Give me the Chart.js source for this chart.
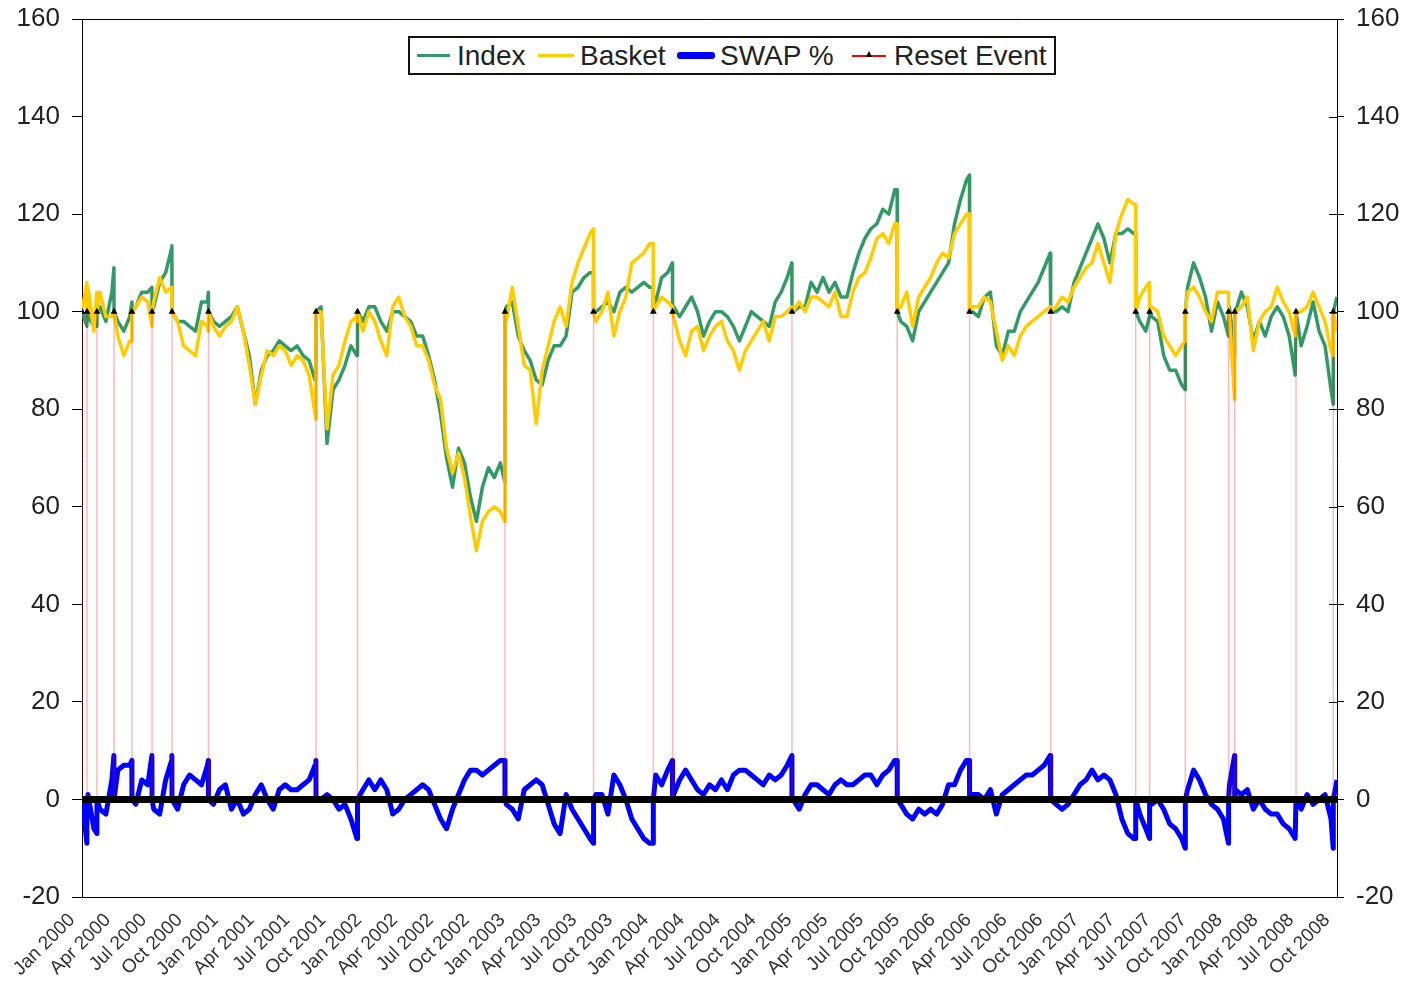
<!DOCTYPE html>
<html>
<head>
<meta charset="utf-8">
<script src="https://cdn.jsdelivr.net/npm/chart.js@4.4.1/dist/chart.umd.min.js"></script>
<style>
  body { margin: 0; background: #fff; }
  #wrap { position: relative; width: 1408px; height: 981px; }
  #legend {
    position: absolute; left: 408px; top: 36px; width: 648px; height: 39px;
    box-sizing: border-box; border: 2px solid #111; background: #fff;
    font-family: "Liberation Sans", Arial, sans-serif; font-size: 28px; color: #222;
  }
  #legend .sym { position: absolute; top: 50%; }
  #legend .txt { position: absolute; top: 0; line-height: 35px; white-space: nowrap; }
  .tri { position: absolute; width: 0; height: 0; border-left: 3px solid transparent;
         border-right: 3px solid transparent; border-bottom: 6px solid #000; }
</style>
</head>
<body>
<div id="wrap">
  <canvas id="chart" width="1408" height="981"></canvas>
  <div id="legend">
    <span class="sym" style="left:7px;width:33px;height:3px;margin-top:-2px;background:#339966"></span>
    <span class="txt" style="left:47px">Index</span>
    <span class="sym" style="left:128px;width:36px;height:3px;margin-top:-2px;background:#ffcc00"></span>
    <span class="txt" style="left:170px">Basket</span>
    <span class="sym" style="left:267px;width:38px;height:7px;margin-top:-4px;border-radius:3px;background:#0000ff"></span>
    <span class="txt" style="left:310px">SWAP %</span>
    <span class="sym" style="left:442px;width:34px;height:2px;margin-top:-1px;background:#ff0000"></span>
    <span class="tri" style="left:456px;top:13px"></span>
    <span class="txt" style="left:484px">Reset Event</span>
  </div>
</div>
<script>
// x values are months since Jan 2000, one reading every half month
const STEP = 0.5;
const X_MIN = 0;
const X_MAX = 105;

const tickLabels = [
  'Jan 2000', 'Apr 2000', 'Jul 2000', 'Oct 2000',
  'Jan 2001', 'Apr 2001', 'Jul 2001', 'Oct 2001',
  'Jan 2002', 'Apr 2002', 'Jul 2002', 'Oct 2002',
  'Jan 2003', 'Apr 2003', 'Jul 2003', 'Oct 2003',
  'Jan 2004', 'Apr 2004', 'Jul 2004', 'Oct 2004',
  'Jan 2005', 'Apr 2005', 'Jul 2005', 'Oct 2005',
  'Jan 2006', 'Apr 2006', 'Jul 2006', 'Oct 2006',
  'Jan 2007', 'Apr 2007', 'Jul 2007', 'Oct 2007',
  'Jan 2008', 'Apr 2008', 'Jul 2008', 'Oct 2008'
];

const indexValues = [
  100, 99, 97, 101, 98, 104, 98, 96, 99, 101, 104, 104, 101, 106, 108, 113, 98, 98, 97, 96, 102, 102, 98, 97,
  98, 99, 101, 96, 91, 81, 88, 91, 92, 94, 93, 92, 93, 91, 90, 86, 101, 73, 84, 86, 89, 93, 91, 98,
  101, 101, 98, 96, 100, 100, 99, 98, 95, 95, 91, 86, 79, 70, 64, 72, 69, 62, 57, 64, 68, 66, 69, 101,
  102, 95, 92, 90, 86, 85, 90, 93, 93, 95, 104, 105, 107, 108, 100, 101, 102, 100, 104, 105, 104, 105, 106, 105,
  102, 107, 108, 101, 99, 101, 103, 100, 95, 98, 100, 100, 99, 97, 94, 97, 100, 99, 98, 97, 102, 104, 107, 100,
  101, 101, 106, 104, 107, 104, 106, 103, 103, 108, 112, 115, 117, 118, 121, 120, 125, 98, 97, 94, 100, 102, 104, 106,
  108, 110, 118, 123, 127, 100, 99, 103, 104, 93, 91, 96, 96, 100, 102, 104, 106, 109, 112, 100, 101, 100, 106, 109,
  112, 115, 118, 115, 110, 116, 116, 117, 116, 98, 96, 99, 98, 91, 88, 88, 85, 105, 110, 107, 103, 96, 102, 99,
  101, 100, 104, 101, 94, 98, 95, 99, 101, 99, 95, 87, 93, 97, 102, 96, 93, 84, 103
];

const basketValues = [
  100, 105, 96, 104, 99, 99, 95, 91, 94, 101, 103, 102, 102, 107, 104, 105, 98, 93, 92, 91, 98, 97, 97, 95,
  97, 98, 101, 96, 89, 81, 87, 92, 91, 93, 92, 89, 91, 90, 87, 79, 100, 76, 87, 89, 94, 98, 99, 96,
  100, 98, 94, 91, 101, 103, 99, 97, 93, 93, 90, 85, 82, 72, 67, 71, 66, 58, 51, 57, 59, 60, 59, 98,
  105, 97, 89, 88, 77, 88, 93, 98, 101, 97, 106, 110, 113, 116, 98, 100, 104, 95, 100, 103, 110, 111, 112, 114,
  101, 103, 102, 99, 94, 91, 96, 97, 92, 95, 97, 98, 94, 92, 88, 92, 94, 96, 98, 94, 99, 99, 100, 100,
  102, 100, 103, 103, 102, 101, 104, 99, 99, 104, 107, 108, 111, 115, 116, 114, 118, 101, 104, 97, 103, 105, 107, 110,
  112, 111, 116, 118, 120, 101, 101, 103, 102, 96, 90, 93, 91, 95, 97, 98, 99, 100, 101, 101, 103, 102, 105, 107,
  109, 110, 114, 110, 106, 116, 120, 123, 122, 103, 105, 101, 100, 95, 93, 91, 93, 104, 105, 103, 100, 98, 104, 104,
  99, 100, 101, 103, 92, 98, 100, 101, 105, 102, 100, 95, 100, 101, 104, 101, 98, 92, 96
];

const swapValues = [
  0, 1, -6, -2, -3, 4, 6, 7, 7, -1, 4, 3, -2, -3, 4, 8, -2, 3, 5, 4, 3, 7, -1, 2,
  3, -2, 0, -3, -2, 1, 3, 0, -2, 2, 3, 2, 2, 3, 4, 7, 0, 1, 0, -2, -1, -4, -8, 2,
  4, 2, 4, 2, -3, -2, 0, 1, 2, 3, 2, -1, -4, -6, -2, 1, 4, 6, 6, 5, 6, 7, 8, -1,
  -2, -4, 2, 3, 4, 3, -1, -5, -7, 1, -2, -4, -6, -8, 1, 1, -3, 5, 3, 0, -4, -6, -8, -9,
  5, 3, 6, 1, 4, 6, 4, 2, 1, 3, 2, 4, 2, 5, 6, 6, 5, 4, 3, 5, 4, 5, 7, 0,
  -2, 1, 3, 3, 2, 1, 3, 4, 3, 3, 4, 5, 5, 3, 5, 6, 8, -1, -3, -4, -2, -3, -2, -3,
  -1, 3, 3, 6, 8, 1, 1, 0, 2, -3, 1, 2, 3, 4, 5, 5, 6, 7, 9, -1, -2, -1, 1, 3,
  4, 6, 4, 5, 4, 1, -4, -7, -8, -3, -6, -1, 0, -2, -5, -6, -8, 2, 6, 4, 1, -1, -2, -4,
  3, 2, 1, 2, -2, 0, -2, -3, -3, -5, -6, -8, -2, 1, -1, 0, 1, -4, 4
];

// reset dates (months since Jan 2000) and the readings just before each reset
const resetMonths = [0, 0.42, 1.25, 2.68, 4.18, 5.86, 7.53, 10.58, 19.58, 23.05, 35.39, 42.8, 47.8,
  49.41, 59.4, 68.21, 74.26, 81.05, 88.16, 89.32, 92.31, 95.93, 96.44, 101.57, 104.69];
const indexBeforeReset = [100, 97, 97, 109, 102, 105, 113.5, 104, 87, 91, 65, 108, 105,
  110, 110, 125, 128, 112, 116, 99, 84, 95, 91, 87, 81];
const basketBeforeReset = [100, 106, 104, 100, 94, 97, 105, 96, 78, 98, 57, 117, 114,
  101, 101, 118, 120, 101, 122, 106, 94, 104, 82, 95, 91];
const swapBeforeReset = [0, -9, -7, 9, 8, 9, 9, 8, 8, -8, 8, -9, -9,
  8, 9, 8, 8, 9, -8, -8, -10, -9, 9, -8, -10];
const RESET_LEVEL = 100;

function buildSeries(values, before, after) {
  const pts = values.map((v, i) => ({ x: i * STEP, y: v }));
  resetMonths.forEach((r, j) => {
    if (r > X_MIN) pts.push({ x: r - 0.01, y: before[j] });
    pts.push({ x: r, y: after });
  });
  pts.sort((a, b) => a.x - b.x);
  return pts;
}

const resetPoints = [];
resetMonths.forEach(r => {
  resetPoints.push({ x: r, y: 0 }, { x: r, y: RESET_LEVEL }, { x: r, y: 0 });
});

const FONT = '"Liberation Sans", Arial, sans-serif';

// top border of the plot and the inner half of the right-hand ticks
const frame = {
  id: 'frame',
  afterDraw(chart) {
    const { ctx, chartArea } = chart;
    const y2 = chart.scales.y2;
    ctx.save();
    ctx.strokeStyle = '#000';
    ctx.lineWidth = 1;
    ctx.beginPath();
    ctx.moveTo(chartArea.left, chartArea.top + 0.5);
    ctx.lineTo(chartArea.right, chartArea.top + 0.5);
    y2.ticks.forEach(t => {
      const py = Math.round(y2.getPixelForValue(t.value)) + 0.5;
      ctx.moveTo(chartArea.right - 8, py);
      ctx.lineTo(chartArea.right, py);
    });
    ctx.stroke();
    ctx.restore();
  }
};

const yTicks = { stepSize: 20, color: '#222', font: { family: FONT, size: 26 } };

function fitY(width) {
  return s => {
    s.width = width;
    s.paddingTop = 0;
    s.paddingBottom = 0;
  };
}

new Chart(document.getElementById('chart'), {
  type: 'line',
  data: {
    datasets: [
      {
        label: 'Index',
        data: buildSeries(indexValues, indexBeforeReset, RESET_LEVEL),
        borderColor: '#339966',
        borderWidth: 3.5,
        order: 4
      },
      {
        label: 'Basket',
        data: buildSeries(basketValues, basketBeforeReset, RESET_LEVEL),
        borderColor: '#ffcc00',
        borderWidth: 3.5,
        order: 3
      },
      {
        label: 'SWAP %',
        data: buildSeries(swapValues, swapBeforeReset, 0),
        borderColor: '#0000ff',
        borderWidth: 5,
        order: 2
      },
      {
        label: 'Reset Event',
        data: resetPoints,
        borderColor: 'rgba(255,0,0,0.28)',
        borderWidth: 1.5,
        pointStyle: 'triangle',
        pointRadius: c => (c.raw && c.raw.y === RESET_LEVEL ? 4 : 0),
        pointBackgroundColor: '#000',
        pointBorderColor: '#000',
        pointBorderWidth: 0,
        order: 1
      },
      {
        label: 'zero',
        data: [{ x: X_MIN, y: 0 }, { x: X_MAX, y: 0 }],
        borderColor: '#000',
        borderWidth: 7,
        order: 0
      }
    ]
  },
  options: {
    responsive: false,
    animation: false,
    elements: {
      line: { tension: 0, borderJoinStyle: 'round', fill: false },
      point: { radius: 0, hoverRadius: 0 }
    },
    layout: { padding: { top: 19, left: 0, right: 0, bottom: 0 } },
    plugins: { legend: { display: false }, tooltip: { enabled: false } },
    scales: {
      x: {
        type: 'linear',
        min: X_MIN,
        max: X_MAX,
        afterFit: s => { s.height = 84; },
        grid: { drawOnChartArea: false, drawTicks: false },
        border: { color: '#000', width: 1 },
        ticks: {
          stepSize: 3,
          autoSkip: false,
          maxRotation: 45,
          minRotation: 45,
          padding: 12,
          labelOffset: -10,
          color: '#333',
          font: { family: FONT, size: 19 },
          callback: v => tickLabels[Math.round(v / 3)]
        }
      },
      y: {
        min: -20,
        max: 160,
        afterFit: fitY(82),
        grid: { drawOnChartArea: false, tickLength: 10, color: '#000' },
        border: { color: '#000', width: 1 },
        ticks: Object.assign({ padding: 12 }, yTicks)
      },
      y2: {
        position: 'right',
        min: -20,
        max: 160,
        afterFit: fitY(71),
        grid: { drawOnChartArea: false, tickLength: 7, color: '#000' },
        border: { color: '#000', width: 1 },
        ticks: Object.assign({ padding: 12 }, yTicks)
      }
    }
  },
  plugins: [frame]
});
</script>
</body>
</html>
